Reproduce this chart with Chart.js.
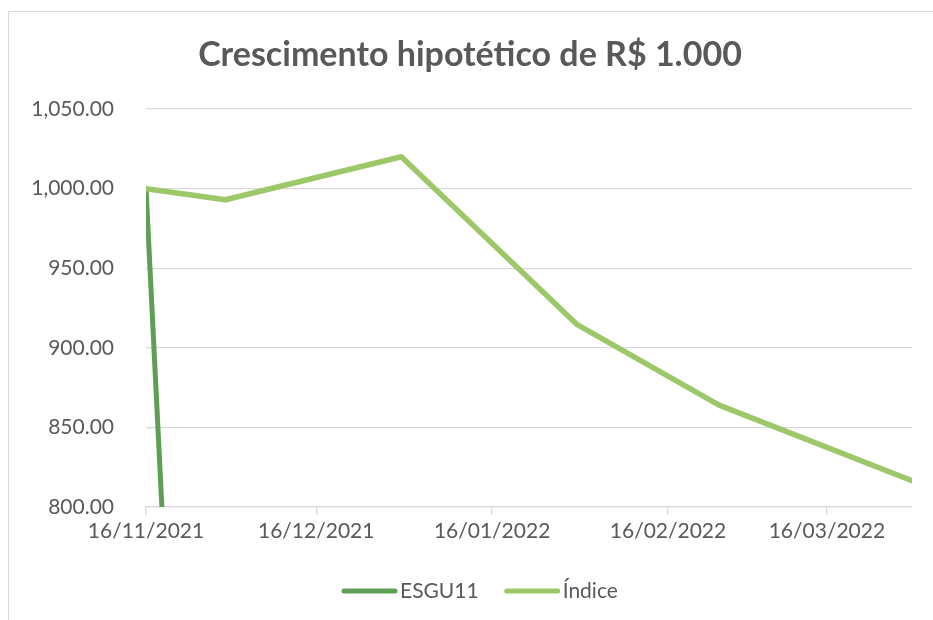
<!DOCTYPE html>
<html>
<head>
<meta charset="utf-8">
<script src="https://cdn.jsdelivr.net/npm/chart.js@4"></script>
<style>
body { margin: 0; background: #fff; overflow: hidden; }
#frame { position: absolute; left: 8px; top: 11px; width: 1000px; height: 1000px; border: 1px solid #d9d9d9; }
#wrap { position: absolute; left: 0; top: 0; width: 933px; height: 620px; }
</style>
</head>
<body>
<div id="frame"></div>
<div id="wrap"><canvas id="myChart"></canvas></div>
<script>
var dates = ['2021-11-16', '2021-11-30', '2021-12-31', '2022-01-31', '2022-02-25', '2022-03-31'];
var esgu11 = [1000, 0, 0, 0, 0, 0];
var indice = [1000, 993, 1020, 914.5, 864, 816.5];
var tickDates = ['2021-11-16', '2021-12-16', '2022-01-16', '2022-02-16', '2022-03-16'];
var tickLabels = ['16/11/2021', '16/12/2021', '16/01/2022', '16/02/2022', '16/03/2022'];

var grey = '#595959';
var font = 'Lato';

function dayOf(d) {
  return (Date.parse(d) - Date.parse(dates[0])) / 86400000;
}

function points(values) {
  return values.map(function (v, i) { return { x: dayOf(dates[i]), y: v }; });
}

// excel style legend: line sample, small gap, text
var bottomLegend = {
  id: 'bottomLegend',
  afterDraw: function (chart) {
    var c = chart.ctx;
    var x = 342, y = 591;
    c.save();
    c.font = '21px ' + font;
    c.textBaseline = 'middle';
    c.lineCap = 'round';
    chart.data.datasets.forEach(function (ds) {
      c.strokeStyle = ds.borderColor;
      c.lineWidth = 5;
      c.beginPath();
      c.moveTo(x + 2, y);
      c.lineTo(x + 53, y);
      c.stroke();
      x += 58;
      c.fillStyle = grey;
      c.fillText(ds.label, x, y);
      x += c.measureText(ds.label).width + 26;
    });
    c.restore();
  }
};

var ctx = document.getElementById('myChart');

var myChart = new Chart(ctx, {
type: 'line',
data: {
datasets: [{
label: 'ESGU11',
data: points(esgu11),
borderColor: '#5f9e55',
backgroundColor: '#5f9e55',
borderWidth: 5,
pointRadius: 0,
borderCapStyle: 'round',
borderJoinStyle: 'round',
order: 1
}, {
label: 'Índice',
data: points(indice),
borderColor: '#9dc86a',
backgroundColor: '#9dc86a',
borderWidth: 5.5,
pointRadius: 0,
borderCapStyle: 'round',
borderJoinStyle: 'round',
order: 0
}]
},
plugins: [bottomLegend],
options: {
maintainAspectRatio: false,
animation: false,
layout: { padding: { left: 28, right: 21, top: 0, bottom: 49.5 } },
plugins: {
title: {
display: true,
text: 'Crescimento hipotético de R$ 1.000',
color: grey,
font: { family: font, size: 34, weight: 'bold' },
padding: { top: 34.6, bottom: 33.6 }
},
legend: { display: false },
tooltip: { enabled: false }
},
scales: {
x: {
type: 'linear',
min: 0,
max: dayOf(dates[dates.length - 1]),
afterBuildTicks: function (scale) {
scale.ticks = tickDates.map(function (d) { return { value: dayOf(d) }; });
},
afterFit: function (scale) { scale.height = 63.5; },
ticks: {
color: grey,
font: { family: font, size: 21 },
padding: 4,
maxRotation: 0,
autoSkip: false,
callback: function (v, i) { return tickLabels[i]; }
},
grid: { drawOnChartArea: false, drawTicks: true, tickLength: 8, color: '#d9d9d9', lineWidth: 1.3 },
border: { display: true, color: '#d9d9d9', width: 1.3 }
},
y: {
min: 800,
max: 1050,
afterFit: function (scale) { scale.width = 118; },
ticks: {
stepSize: 50,
color: grey,
font: { family: font, size: 21 },
padding: 32,
callback: function (v) { return v.toLocaleString('en-US', { minimumFractionDigits: 2, maximumFractionDigits: 2 }); }
},
grid: { color: '#d9d9d9', lineWidth: 1.3, drawTicks: false },
border: { display: false }
}
}
}
});
</script>
</body>
</html>
